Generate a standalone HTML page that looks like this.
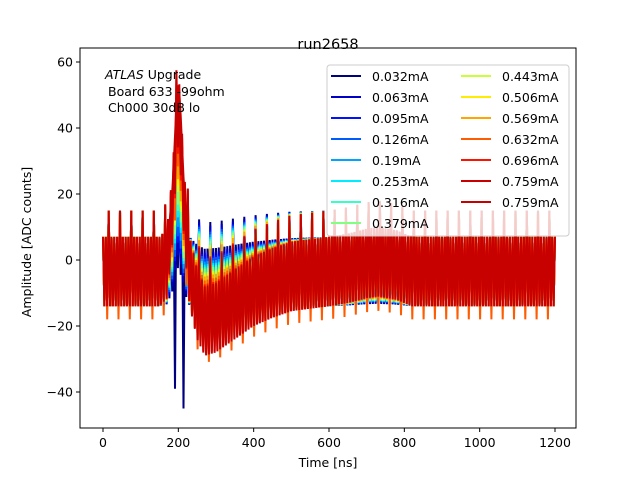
<!DOCTYPE html>
<html><head><meta charset="utf-8"><style>
body{margin:0;background:#fff}
svg{display:block;font-family:"DejaVu Sans","Liberation Sans",sans-serif}
</style></head><body>
<svg id="c" width="640" height="480" viewBox="0 0 640 480">
<rect width="640" height="480" fill="#fff"/>
<text x="328" y="49" font-size="14.5" text-anchor="middle">run2658</text>
<defs><clipPath id="cp"><rect x="80" y="48" width="496" height="380"/></clipPath></defs>
<g id="plot" clip-path="url(#cp)"></g>
<rect x="80" y="48" width="496" height="380" fill="none" stroke="#000" stroke-width="1"/>
<g id="xt"></g>
<g id="yt"></g>
<text x="328" y="467" font-size="12.5" text-anchor="middle">Time [ns]</text>
<text transform="translate(31,242) rotate(-90)" font-size="12.5" text-anchor="middle">Amplitude [ADC counts]</text>
<g font-size="12.5">
<text x="105" y="79"><tspan font-style="italic">ATLAS</tspan> Upgrade</text>
<text x="108" y="96">Board 633 -99ohm</text>
<text x="108" y="112">Ch000 30dB lo</text>
</g>
<g id="leg">
<rect x="327" y="65" width="242" height="171" rx="3" fill="#fff" fill-opacity="0.8" stroke="#ccc"/>
</g>
</svg>
<script>
const labels=["0.032mA","0.063mA","0.095mA","0.126mA","0.19mA","0.253mA","0.316mA","0.379mA","0.443mA","0.506mA","0.569mA","0.632mA","0.696mA","0.759mA","0.759mA"];
const peaks=[12,16,20,22,25,28,30,32,36,38,40,44,48,55,50];
const shapeT=[0,150,170,185,195,200,205,215,230,250,270,300,350,400,450,500,600,650,700,730,780,820,1200];
const shapeV=[0,0,0.05,0.4,0.85,1,0.85,0.4,0,-0.2,-0.3,-0.28,-0.2,-0.12,-0.07,-0.03,0,0.02,0.05,0.06,0.04,0,0];
const noise=[7,-14,7,-14,15,-14,7,-14];
const noiseOrange=[7,-14,7,-18,7,-14,7,-14];
const blueDips=[[190,-39],[215,-45]];
const xTicks=[0,200,400,600,800,1000,1200];
const yTicks=[-40,-20,0,20,40,60];
const NS='http://www.w3.org/2000/svg';
const X=t=>103+t*(555-103)/1200;
const Y=v=>260-v*(260-194)/20;
function jet(f){const r=Math.min(Math.max(1.5-Math.abs(4*f-3),0),1),g=Math.min(Math.max(1.5-Math.abs(4*f-2),0),1),b=Math.min(Math.max(1.5-Math.abs(4*f-1),0),1);return `rgb(${Math.round(r*255)},${Math.round(g*255)},${Math.round(b*255)})`;}
const colOf=k=>jet(Math.min(k/14,0.93));
function shape(t){for(let i=1;i<shapeT.length;i++){if(t<=shapeT[i]){const f=(t-shapeT[i-1])/(shapeT[i]-shapeT[i-1]);return shapeV[i-1]+f*(shapeV[i]-shapeV[i-1]);}}return 0;}
const plot=document.getElementById('plot');
const n=labels.length;
const smoothIdx=n-2;
const order=[];
for(let s=0;s<n;s++){if(s!==smoothIdx)order.push(s);}
order.push(smoothIdx);
for(const s of order){
  const col=colOf(s);
  let pts=[];
  const smooth=(s===smoothIdx);
  for(let i=0;i<=320;i++){
    const t=i*3.75;
    let v=peaks[s]*shape(t);
    if(!smooth){const nz=(s===11)?noiseOrange:noise;v+=nz[i%8];}
    if(s===0){for(const d of blueDips){if(Math.abs(t-d[0])<2)v=d[1];}}
    pts.push(X(t).toFixed(1)+','+Y(v).toFixed(1));
  }
  const pl=document.createElementNS(NS,'polyline');
  pl.setAttribute('points',pts.join(' '));
  pl.setAttribute('fill','none');pl.setAttribute('stroke',col);pl.setAttribute('stroke-width',2);
  
  
  plot.appendChild(pl);
}
const xt=document.getElementById('xt');
xTicks.forEach(v=>{
  const l=document.createElementNS(NS,'line');l.setAttribute('x1',X(v));l.setAttribute('x2',X(v));l.setAttribute('y1',428);l.setAttribute('y2',432);l.setAttribute('stroke','#000');
  
  
  xt.appendChild(l);
  const tx=document.createElementNS(NS,'text');tx.setAttribute('x',X(v));tx.setAttribute('y',447);tx.setAttribute('font-size','12.5');tx.setAttribute('text-anchor','middle');tx.textContent=v;
  
  
  xt.appendChild(tx);
});
const yt=document.getElementById('yt');
yTicks.forEach(v=>{
  const l=document.createElementNS(NS,'line');l.setAttribute('x1',76);l.setAttribute('x2',80);l.setAttribute('y1',Y(v));l.setAttribute('y2',Y(v));l.setAttribute('stroke','#000');
  
  
  yt.appendChild(l);
  const tx=document.createElementNS(NS,'text');tx.setAttribute('x',73);tx.setAttribute('y',Y(v)+4.5);tx.setAttribute('font-size','12.5');tx.setAttribute('text-anchor','end');tx.textContent=(v<0?'\u2212'+(-v):v);
  
  
  yt.appendChild(tx);
});
const leg=document.getElementById('leg');
const legText=["0.032mA","0.063mA","0.095mA","0.126mA","0.19mA","0.253mA","0.316mA","0.379mA","0.443mA","0.506mA","0.569mA","0.632mA","0.696mA","0.759mA","0.759mA"];
for(let k=0;k<15;k++){
  const c=k<8?0:1,r=k<8?k:k-8;
  const y=76+r*21;
  const x0=c?461:331;
  const l=document.createElementNS(NS,'line');l.setAttribute('x1',x0);l.setAttribute('x2',x0+30);l.setAttribute('y1',y);l.setAttribute('y2',y);l.setAttribute('stroke',colOf(k));l.setAttribute('stroke-width',2);
  
  
  leg.appendChild(l);
  const tx=document.createElementNS(NS,'text');tx.setAttribute('x',x0+41);tx.setAttribute('y',y+5);tx.setAttribute('font-size','12.5');
  tx.textContent=legText[k];
  
  
  leg.appendChild(tx);
}
</script>
</body></html>
